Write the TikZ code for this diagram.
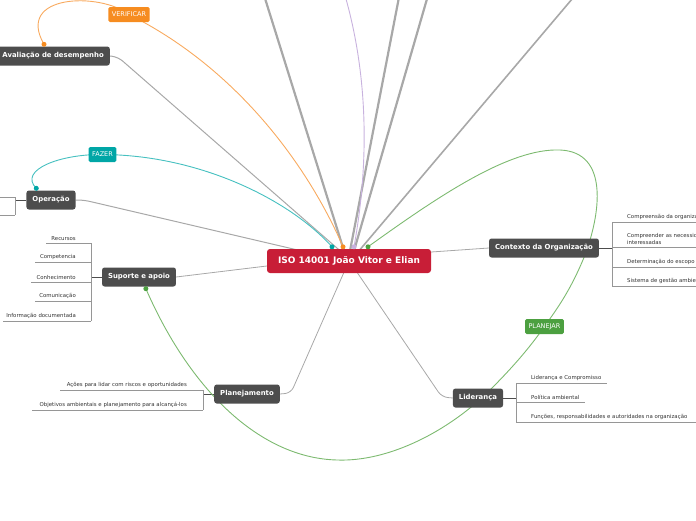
\documentclass[tikz,border=0pt]{standalone}
\usepackage{fontspec}
\setmainfont{DejaVu Sans}
\usepackage{tikz}
\usetikzlibrary{calc,positioning,backgrounds}
\usepackage{xcolor}
\definecolor{isored}{RGB}{200,30,55}
\definecolor{ramo}{RGB}{77,77,77}
\definecolor{verifcor}{RGB}{246,140,32}
\definecolor{verifln}{RGB}{248,170,95}
\definecolor{fazercor}{RGB}{0,166,166}
\definecolor{fazerln}{RGB}{70,192,192}
\definecolor{planjcor}{RGB}{76,160,64}
\definecolor{planjln}{RGB}{125,186,112}
\definecolor{roxoln}{RGB}{200,178,222}
\definecolor{cinzaln}{RGB}{168,168,168}
\definecolor{subln}{RGB}{150,150,150}

\begin{document}
\begin{tikzpicture}[x=1pt,y=-1pt,
  topico/.style={fill=ramo, text=white, rounded corners=2.5pt, inner xsep=6pt,
    minimum height=19pt, font=\fontsize{6.9}{8}\selectfont\bfseries},
  etiqueta/.style={text=white, rounded corners=1.5pt, inner xsep=3.5pt,
    minimum height=15pt, font=\fontsize{6.5}{7}\selectfont},
  subitem/.style={text=black!80, inner sep=1pt, font=\fontsize{5.4}{6.4}\selectfont},
  haste/.style={draw=ramo, line width=1pt},
  sublinha/.style={draw=subln, line width=0.6pt},
  galho/.style={draw=cinzaln, line width=1pt, rounded corners=6pt},
  galhofora/.style={draw=cinzaln, line width=2.2pt}]
\useasboundingbox (0,0) rectangle (696,520);

%====================================================
% NO CENTRAL E TOPICOS
%====================================================
\node[fill=isored, text=white, rounded corners=3pt, minimum width=164pt,
  minimum height=24pt, font=\fontsize{9}{10}\selectfont\bfseries]
  (iso) at (349,261) {ISO 14001 João Vitor e Elian};

\node[topico] (ctx) at (544,248) {Contexto da Organização};
\node[topico] (lid) at (478,398) {Liderança};
\node[topico] (plan) at (247,394) {Planejamento};
\node[topico] (sup) at (139,277) {Suporte e apoio};
\node[topico] (oper) at (51,200) {Operação};
\node[topico, anchor=east] (aval) at (110,56) {Avaliação de desempenho};

% etiquetas do ciclo PDCA
\node[etiqueta, fill=verifcor] (verif) at (129,14.5) {VERIFICAR};
\node[etiqueta, fill=fazercor] (fazer) at (102.5,154.5) {FAZER};
\node[etiqueta, fill=planjcor] (planj) at (544.5,326.5) {PLANEJAR};

%====================================================
% SUBTOPICOS
%====================================================
% Contexto da Organizacao
\coordinate (ctxB) at (612,248);
\node[subitem, anchor=south west] (ctx1) at (626,220.5) {Compreensão da organização e de seu contexto};
\node[subitem, anchor=south west, align=left] (ctx2) at (626,245.5)
  {Compreender as necessidades e expectativas das partes\\interessadas};
\node[subitem, anchor=south west] (ctx3) at (626,265.5) {Determinação do escopo do sistema de gestão ambiental};
\node[subitem, anchor=south west] (ctx4) at (626,284.5) {Sistema de gestão ambiental};

% Lideranca
\coordinate (lidB) at (516,398);
\node[subitem, anchor=south west] (lid1) at (530,381.5) {Liderança e Compromisso};
\node[subitem, anchor=south west] (lid2) at (530,400.5) {Política ambiental};
\node[subitem, anchor=south west] (lid3) at (530,420.5) {Funções, responsabilidades e autoridades na organização};

% Planejamento
\coordinate (planB) at (203,394);
\node[subitem, anchor=south east] (plan1) at (188,388.5) {Ações para lidar com riscos e oportunidades};
\node[subitem, anchor=south east] (plan2) at (188,408.5) {Objetivos ambientais e planejamento para alcançá-los};

% Suporte e apoio
\coordinate (supB) at (91,277);
\node[subitem, anchor=south east] (sup1) at (77,241.5) {Recursos};
\node[subitem, anchor=south east] (sup2) at (77,260.5) {Competencia};
\node[subitem, anchor=south east] (sup3) at (77,280.5) {Conhecimento};
\node[subitem, anchor=south east] (sup4) at (77,299.5) {Comunicação};
\node[subitem, anchor=south east] (sup5) at (77,319.5) {Informação documentada};

% Operacao
\coordinate (operB) at (15,200);

%====================================================
% LIGACOES
%====================================================
\begin{scope}[on background layer]
  % ramos que saem da imagem
  \coordinate (fora1) at (263,-8);
  \coordinate (fora2) at (400,-8);
  \coordinate (fora3) at (429,-8);
  \coordinate (fora4) at (578,-8);
  \draw[galhofora] ($(iso.north)+(-5,2)$) -- (fora1);
  \draw[galhofora] ($(iso.north)+(1,2)$) -- (fora2);
  \draw[galhofora] ($(iso.north)+(5,2)$) -- (fora3);
  \draw[galhofora, line width=1.6pt] ($(iso.north)+(10,2)$) -- (fora4);

  % ramos para os topicos
  \draw[galho] (aval.east) -- ++(8,1) -- ($(iso.north)+(-10,1)$);
  \draw[galho] (oper.east) -- ++(8,0) -- ($(iso.north west)+(30,1)$);
  \draw[draw=cinzaln, line width=0.8pt] (sup.east) -- ($(iso.west)+(0,5)$);
  \draw[draw=cinzaln, line width=0.8pt] ($(iso.east)+(0,-9)$) -- (ctx.west);
  \draw[galho, line width=0.8pt] (plan.east) -- ++(11,-1) -- ($(iso.south)+(-5,-1)$);
  \draw[galho, line width=0.8pt] (lid.west) -- ++(-11,-1) -- ($(iso.south)+(8,-1)$);

  % hastes e colchetes dos subtopicos
  \draw[haste] (ctx.east) -- (ctxB);
  \draw[sublinha] (612,222) -- (612,286);
  \draw[sublinha] (612,222) -- (700,222);
  \draw[sublinha] (612,247) -- (700,247);
  \draw[sublinha] (612,267) -- (700,267);
  \draw[sublinha] (612,286) -- (700,286);

  \draw[haste] (lid.east) -- (lidB);
  \draw[sublinha] (516,383) -- (516,422);
  \draw[sublinha] (516,383) -- (607,383);
  \draw[sublinha] (516,402) -- (585,402);
  \draw[sublinha] (516,422) -- (700,422);

  \draw[haste] (plan.west) -- (planB);
  \draw[sublinha] (203,390) -- (203,410);
  \draw[sublinha] (60,390) -- (203,390);
  \draw[sublinha] (32,410) -- (203,410);

  \draw[haste] (sup.west) -- (supB);
  \draw[sublinha] (91,243) -- (91,321);
  \draw[sublinha] (46,243) -- (91,243);
  \draw[sublinha] (35,262) -- (91,262);
  \draw[sublinha] (31,282) -- (91,282);
  \draw[sublinha] (35,301) -- (91,301);
  \draw[sublinha] (3,321) -- (91,321);

  \draw[haste] (oper.west) -- (operB);
  \draw[sublinha] (15,197) -- (15,215);
  \draw[sublinha] (-5,197) -- (15,197);
  \draw[sublinha] (-5,215) -- (15,215);

  % ciclo PDCA
  \coordinate (pFazer) at ($(iso.north)+(-17,-2)$);
  \coordinate (pVerif) at ($(iso.north)+(-6,-2)$);
  \coordinate (pRoxo) at ($(iso.north)+(5,-2)$);
  \coordinate (pPlanj) at ($(iso.north)+(19,-2)$);
  \coordinate (qVerif) at ($(aval.north east)+(-66,-2)$);
  \coordinate (qFazer) at ($(oper.north west)+(10,-2)$);
  \coordinate (qPlanj) at ($(sup.south west)+(44,2)$);
  \coordinate (roxoFora) at (344,-8);

  \draw[verifln, line width=0.9pt] (pVerif)
    .. controls (310,170) and (240,70) .. (verif.center)
    .. controls (100,-8) and (15,-6) .. (qVerif);
  \draw[fazerln, line width=0.9pt] (pFazer)
    .. controls (290,200) and (200,155) .. (fazer.center)
    .. controls (60,154) and (18,170) .. (qFazer);
  \draw[roxoln, line width=0.9pt] (pRoxo)
    .. controls (368,170) and (370,80) .. (roxoFora);
  \draw[planjln, line width=0.9pt] (pPlanj)
    .. controls (440,195) and (510,148) .. (560,150)
    .. controls (610,152) and (600,215) .. (585,255)
    .. controls (570,292) and (556,310) .. (planj.center)
    .. controls (528,350) and (510,370) .. (490,390)
    .. controls (450,430) and (390,462) .. (337,460)
    .. controls (260,458) and (190,390) .. (qPlanj);
\end{scope}

% pontos de ancoragem
\fill[fazercor] (pFazer) circle (2.5pt);
\fill[verifcor] (pVerif) circle (2.5pt);
\fill[roxoln] (pRoxo) circle (2.5pt);
\fill[planjcor] (pPlanj) circle (2.5pt);
\fill[verifcor] (qVerif) circle (2.5pt);
\fill[fazercor] (qFazer) circle (2.5pt);
\fill[planjcor] (qPlanj) circle (2.5pt);
\end{tikzpicture}
\end{document}
